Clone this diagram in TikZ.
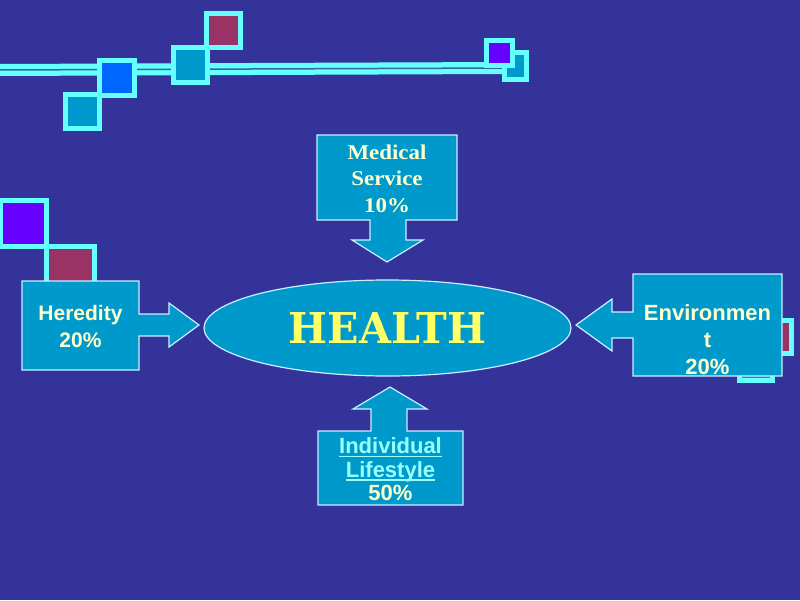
\documentclass[tikz,border=0pt]{standalone}
\usepackage{fontspec}
\newfontfamily\arialf{Liberation Sans}
\newfontfamily\timesf{Liberation Serif}
\newfontfamily\slabf{DejaVu Serif}
\usetikzlibrary{shapes.geometric}
\definecolor{bgc}{HTML}{333399}
\definecolor{boxfill}{HTML}{0099CC}
\definecolor{edgec}{HTML}{CCEEFF}
\definecolor{decoc}{HTML}{66FFFF}
\definecolor{maroonc}{HTML}{993366}
\definecolor{purpc}{HTML}{6600FF}
\definecolor{bluesq}{HTML}{0066FF}
\definecolor{creamc}{HTML}{FFFFCC}
\definecolor{yelc}{HTML}{FFFF66}
\definecolor{lcyan}{HTML}{99FFFF}
\definecolor{innerline}{HTML}{33669C}
\newcommand{\decosq}[5]{\draw[sqstyle, fill=#5] (#1+2.5,#2+2.5) rectangle (#3-2.5,#4-2.5);}
\newcommand{\myul}[1]{\setbox0\hbox{#1}\rlap{\rule[-3.5pt]{\wd0}{1.5pt}}\box0}
\newcommand{\wide}[1]{\scalebox{1.09}[1]{#1}}
\begin{document}
\begin{tikzpicture}[x=1pt,y=-1pt,
  sqstyle/.style={draw=decoc, line width=5.5pt},
  callout/.style={fill=boxfill, draw=edgec, line width=1.2pt, line join=miter},
  lbl/.style={align=center, inner sep=0pt, text=creamc}]
% background
\fill[bgc] (0,0) rectangle (800,600);
\useasboundingbox (0,0) rectangle (800,600);
% decorative line: thick cyan band with a thin dark core
\coordinate (lineL) at (-5,70);
\coordinate (lineR) at (505,68);
\draw[decoc, line width=12pt] (lineL) -- (lineR);
\draw[innerline, line width=1.5pt] (lineL) -- (lineR);
% decorative squares (top)
\decosq{63}{92}{102}{131}{boxfill}
\decosq{97}{58}{137}{98}{bluesq}
\decosq{171}{45}{210}{85}{boxfill}
\decosq{204}{11}{243}{50}{maroonc}
\decosq{502}{50}{529}{82}{boxfill}
\decosq{484}{38}{515}{68}{purpc}
% left squares
\decosq{-2}{198}{49}{249}{purpc}
\decosq{44}{244}{97}{297}{maroonc}
% right squares
\decosq{737}{345}{775}{383}{boxfill}
\decosq{756}{318}{794}{356}{maroonc}
% callouts
\draw[callout] (22,281) -- (139,281) -- (139,314) -- (169,314) -- (169,303) -- (199,325)
  -- (169,347) -- (169,336) -- (139,336) -- (139,370) -- (22,370) -- cycle;
\draw[callout] (317,135) -- (457,135) -- (457,220) -- (406,220) -- (406,240) -- (423,240)
  -- (387,262) -- (352,240) -- (370,240) -- (370,220) -- (317,220) -- cycle;
\draw[callout] (633,274) -- (782,274) -- (782,376) -- (633,376) -- (633,338) -- (612,338)
  -- (612,351) -- (576,325) -- (612,299) -- (612,312) -- (633,312) -- cycle;
\draw[callout] (318,505) -- (318,431) -- (371,431) -- (371,409) -- (353,409) -- (390,387)
  -- (427,409) -- (407,409) -- (407,431) -- (463,431) -- (463,505) -- cycle;
% central ellipse
\node[ellipse, fill=boxfill, draw=edgec, line width=1.2pt, minimum width=367pt,
  minimum height=96pt, inner sep=0pt, text=yelc,
  font=\slabf\bfseries\fontsize{42.5}{48}\selectfont] (health) at (387.5,328)
  {\scalebox{0.97}[1]{HEALTH}};
% labels
\node[lbl, font=\arialf\bfseries\fontsize{21}{27}\selectfont] (her) at (80.5,326)
  {Heredity\\20\%};
\node[lbl, font=\timesf\bfseries\fontsize{21}{26.5}\selectfont] (med) at (387,178.5)
  {\wide{Medical}\\\wide{Service}\\\wide{10\%}};
\node[lbl, font=\arialf\bfseries\fontsize{22}{27}\selectfont] (env) at (707.5,339.5)
  {Environmen\\t\\20\%};
\node[lbl, font=\arialf\bfseries\fontsize{22}{23.5}\selectfont] (life) at (390.5,469.5)
  {\textcolor{lcyan}{\myul{Individual}}\\\textcolor{lcyan}{\myul{Lifestyle}}\\50\%};
\end{tikzpicture}
\end{document}
